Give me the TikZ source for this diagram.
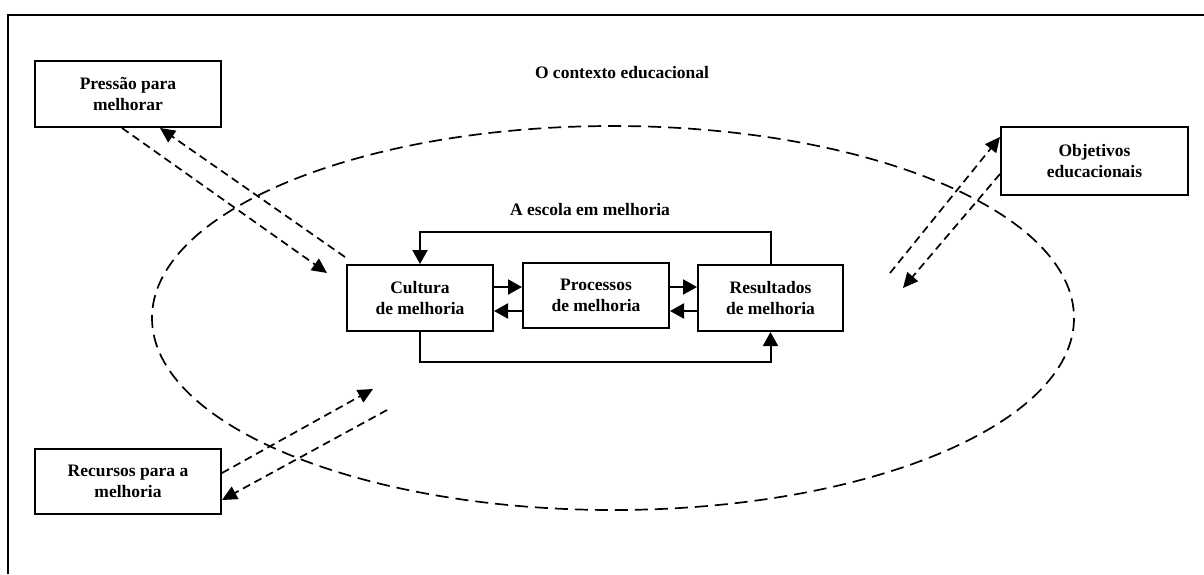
\documentclass[tikz,border=0pt]{standalone}
\usepackage{fontspec}
\setmainfont{Liberation Serif}
\usetikzlibrary{arrows.meta,calc}
\begin{document}
\begin{tikzpicture}[x=1pt,y=-1pt,
  box/.style={draw, line width=2pt, fill=white, font=\fontsize{17.5}{21}\selectfont\bfseries, align=center, inner sep=0pt},
  lbl/.style={font=\fontsize{17.5}{21}\selectfont\bfseries, inner sep=0pt},
  dasharrow/.style={line width=1.7pt, dash pattern=on 8pt off 5pt, -{Triangle[length=15pt,width=14pt]}},
  solidarrow/.style={line width=2pt, -{Triangle[length=14pt,width=15pt]}},
  ellipsestyle/.style={line width=1.7pt, dash pattern=on 13pt off 7pt}
]
\useasboundingbox (0,0) rectangle (1204,574);
\draw[line width=2pt] (8,574) -- (8,15) -- (1204,15);

\draw[ellipsestyle] (613,318) ellipse [x radius=461, y radius=192];

\node[lbl] (ctx) at (622,73) {O contexto educacional};
\node[lbl] (esc) at (590,210) {A escola em melhoria};

\node[box, minimum width=186pt, minimum height=66pt] (pres) at (128,94) {Pressão para\\melhorar};
\node[box, minimum width=187pt, minimum height=68pt] (obj) at (1094.5,161) {Objetivos\\educacionais};
\node[box, minimum width=186pt, minimum height=65pt] (rec) at (128,481.5) {Recursos para a\\melhoria};

\node[box, minimum width=146pt, minimum height=66pt] (cul) at (420,298) {Cultura\\de melhoria};
\node[box, minimum width=146pt, minimum height=65pt] (proc) at (596,295.5) {Processos\\de melhoria};
\node[box, minimum width=145pt, minimum height=66pt] (res) at (770.5,298) {Resultados\\de melhoria};

% horizontal arrows
\coordinate (ya) at (0,287);
\coordinate (yb) at (0,311);
\draw[solidarrow] (cul.east |- ya) -- (proc.west |- ya);
\draw[solidarrow] (proc.west |- yb) -- (cul.east |- yb);
\draw[solidarrow] (proc.east |- ya) -- (res.west |- ya);
\draw[solidarrow] (res.west |- yb) -- (proc.east |- yb);

% feedback loops
\draw[solidarrow] (res.north) -- ++(0,-32) -| (cul.north);
\draw[solidarrow] (cul.south) -- ++(0,30) -| (res.south);

% dashed arrows: Pressão
\coordinate (p1) at (327,273);
\coordinate (p2) at (345,257);
\draw[dasharrow] ([xshift=-6pt]pres.south) -- (p1);
\draw[dasharrow] (p2) -- ([xshift=32pt]pres.south);

% dashed arrows: Objetivos
\coordinate (o1) at (890,273);
\coordinate (o2) at (903,288);
\draw[dasharrow] (o1) -- ([yshift=24pt]obj.west);
\draw[dasharrow] ([yshift=-13pt]obj.west) -- (o2);

% dashed arrows: Recursos
\coordinate (r1) at (373,389);
\coordinate (r2) at (387,410);
\draw[dasharrow] ([yshift=8.5pt]rec.east) -- (r1);
\draw[dasharrow] (r2) -- ([yshift=-18.5pt]rec.east);
\end{tikzpicture}
\end{document}
